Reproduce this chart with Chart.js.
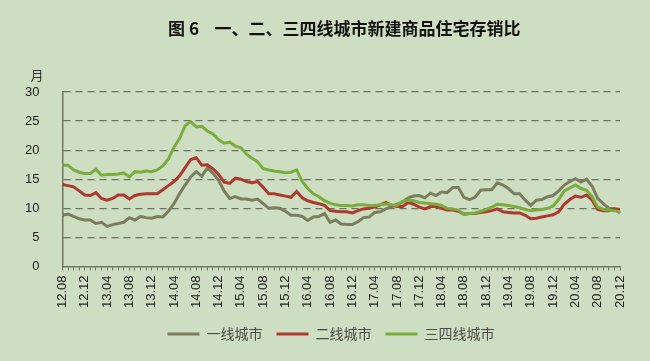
<!DOCTYPE html>
<html>
<head>
<meta charset="utf-8">
<script src="https://cdn.jsdelivr.net/npm/chart.js@4.4.0/dist/chart.umd.min.js"></script>
<style>
html, body { margin: 0; padding: 0; background: #cedec2; }
#wrap { width: 650px; height: 361px; }
</style>
</head>
<body>
<div id="wrap"><canvas id="chart" width="650" height="361"></canvas></div>
<script>
// months 2012.08 - 2020.12, shown as yy.mm
var months = [];
for (var y = 2012; y <= 2020; y++) {
	for (var m = 1; m <= 12; m++) {
		if (y === 2012 && m < 8) continue;
		months.push(String(y).slice(2) + '.' + (m < 10 ? '0' : '') + m);
	}
}

var seriesNames = ['一线城市', '二线城市', '三四线城市'];

var tier1 = [8.8, 9.0, 8.6, 8.2, 8.0, 8.0, 7.4, 7.6, 6.9, 7.2, 7.4, 7.6, 8.4, 8.0, 8.6, 8.4,
	8.3, 8.6, 8.5, 9.5, 10.8, 12.5, 14.0, 15.4, 16.3, 15.5, 17.0, 16.0, 14.8, 13.0, 11.7, 12.0,
	11.6, 11.6, 11.4, 11.6, 10.8, 10.0, 10.1, 10.0, 9.5, 8.8, 8.8, 8.6, 7.9, 8.5, 8.6, 9.1,
	7.6, 8.0, 7.3, 7.2, 7.2, 7.7, 8.4, 8.5, 9.3, 9.4, 9.9, 10.3, 10.7, 11.1, 11.8, 12.1,
	12.2, 11.8, 12.6, 12.2, 12.8, 12.7, 13.6, 13.6, 11.9, 11.5, 11.9, 13.1, 13.2, 13.2, 14.4, 14.0,
	13.4, 12.5, 12.5, 11.4, 10.5, 11.4, 11.5, 12.0, 12.2, 13.0, 14.0, 14.6, 15.1, 14.5, 15.0, 13.8,
	11.7, 10.8, 10.0, 9.9, 9.2];

var tier2 = [14.1, 13.9, 13.7, 13.0, 12.3, 12.2, 12.7, 11.7, 11.4, 11.7, 12.3, 12.3, 11.6, 12.2, 12.4, 12.5,
	12.5, 12.5, 13.2, 13.9, 14.6, 15.6, 17.0, 18.4, 18.7, 17.4, 17.5, 16.8, 15.8, 14.5, 14.3, 15.2,
	15.0, 14.6, 14.4, 14.6, 13.6, 12.5, 12.5, 12.3, 12.1, 11.9, 12.9, 11.8, 11.3, 11.0, 10.8, 10.5,
	9.6, 9.5, 9.4, 9.4, 9.2, 9.6, 9.9, 10.0, 10.2, 10.6, 11.0, 10.5, 10.3, 10.3, 11.0, 10.7,
	10.2, 9.9, 10.3, 10.3, 10.0, 9.7, 9.7, 9.5, 9.0, 9.1, 9.1, 9.3, 9.4, 9.6, 9.9, 9.4,
	9.3, 9.2, 9.2, 8.8, 8.2, 8.3, 8.5, 8.7, 8.9, 9.4, 10.7, 11.5, 12.1, 11.9, 12.3, 11.4,
	9.8, 9.6, 9.6, 9.9, 9.8];

var tier34 = [17.4, 17.4, 16.6, 16.2, 16.0, 16.0, 16.7, 15.7, 15.8, 15.8, 15.9, 16.1, 15.4, 16.3, 16.2, 16.4,
	16.3, 16.6, 17.3, 18.5, 20.5, 22.0, 24.2, 24.9, 24.0, 24.1, 23.3, 22.8, 21.8, 21.2, 21.4, 20.7,
	20.4, 19.3, 18.6, 18.0, 16.8, 16.6, 16.4, 16.3, 16.1, 16.2, 16.6, 14.6, 13.4, 12.5, 12.0, 11.3,
	10.9, 10.6, 10.5, 10.5, 10.4, 10.6, 10.6, 10.5, 10.5, 10.6, 10.8, 10.6, 10.5, 11.2, 11.4, 11.3,
	11.0, 10.9, 10.8, 10.7, 10.5, 10.0, 9.9, 9.7, 9.0, 9.1, 9.2, 9.5, 9.8, 10.2, 10.7, 10.6,
	10.5, 10.3, 10.1, 9.8, 9.6, 9.7, 9.8, 10.0, 10.4, 11.5, 13.0, 13.5, 14.0, 13.4, 13.1, 12.0,
	10.2, 9.8, 9.7, 9.6, 9.4];

var titleText = '图 6    一、二、三四线城市新建商品住宅存销比';
var unitText = '月';

var colors = ['#7b7d5f', '#b0392f', '#79ad3d'];
var sansFont = '"Liberation Sans", "Noto Sans CJK SC", sans-serif';

/*-----title, unit, legend nudge-----*/
var captions = {
	id: 'captions',
	afterLayout: function(chart) {
		// legend sits centred under the plot in the original, not under the canvas
		if (chart.legend) {
			chart.legend.left += 20;
			chart.legend.right += 20;
		}
	},
	afterDraw: function(chart) {
		var ctx = chart.ctx, a = chart.chartArea;
		ctx.save();
		ctx.fillStyle = '#111';
		ctx.textAlign = 'center';
		ctx.textBaseline = 'middle';
		ctx.font = 'bold 17px "Noto Sans CJK SC"';
		ctx.fillText(titleText, (a.left + a.right) / 2 + 3, 29);
		ctx.fillStyle = '#333';
		ctx.font = '13px "Noto Sans CJK SC"';
		ctx.fillText(unitText, 37, 75);
		ctx.restore();
	}
};

var dataSets = [tier1, tier2, tier34].map(function(vals, i) {
	return {
		label: seriesNames[i],
		data: vals,
		borderColor: colors[i],
		backgroundColor: colors[i],
		borderWidth: 3,
		pointRadius: 0,
		tension: 0,
		order: 3 - i
	};
});

new Chart(document.getElementById('chart').getContext('2d'), {
	type: 'line',
	data: {
		labels: months,
		datasets: dataSets
	},
	options: {
		responsive: false,
		animation: false,
		layout: {
			padding: { top: 92, left: 2, right: 30, bottom: 10 }
		},
		plugins: {
			title: { display: false },
			tooltip: { enabled: false },
			legend: {
				position: 'bottom',
				labels: {
					boxWidth: 32,
					boxHeight: 3,
					padding: 14,
					color: '#4a4a4a',
					font: { size: 14, family: '"Noto Sans CJK SC", sans-serif' },
					sort: function(a, b) { return a.datasetIndex - b.datasetIndex; },
					generateLabels: function(chart) {
						return Chart.defaults.plugins.legend.labels.generateLabels(chart).map(function(l) {
							l.strokeStyle = 'rgba(0,0,0,0)';
							return l;
						});
					}
				}
			}
		},
		scales: {
			x: {
				offset: false,
				border: { display: true, color: '#6f7563', width: 1.5 },
				grid: {
					display: true,
					drawOnChartArea: false,
					drawTicks: true,
					tickLength: 4,
					tickColor: '#6f7563'
				},
				ticks: {
					autoSkip: false,
					maxRotation: 90,
					minRotation: 90,
					padding: 5,
					color: '#222',
					font: { size: 13, family: sansFont },
					callback: function(val, idx) {
						return idx % 4 === 0 ? this.getLabelForValue(val) : '';
					}
				}
			},
			y: {
				min: 0,
				max: 30,
				border: { display: true, color: '#6f7563', width: 1.5, dash: [7, 5] },
				grid: {
					drawTicks: false,
					lineWidth: 1.2,
					color: function(c) { return c.tick && c.tick.value === 0 ? 'rgba(0,0,0,0)' : '#6a7262'; }
				},
				ticks: {
					stepSize: 5,
					padding: 23,
					color: '#222',
					font: { size: 13, family: sansFont }
				}
			}
		}
	},
	plugins: [captions]
});
</script>
</body>
</html>
